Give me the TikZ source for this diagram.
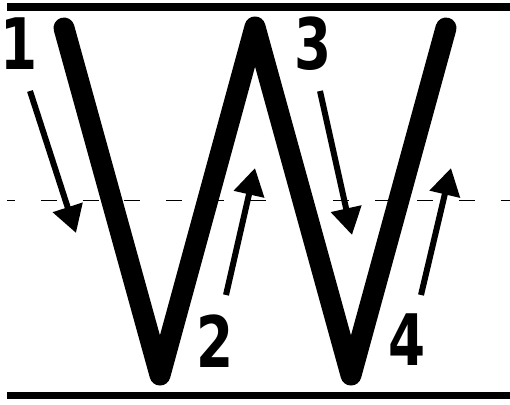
\documentclass[tikz,border=0pt]{standalone}
\usepackage{fontspec}
\newfontfamily\digitfont[FakeStretch=0.75]{DejaVu Sans}
\usetikzlibrary{arrows.meta}

\begin{document}
\begin{tikzpicture}[x=1pt, y=-1pt,
    rule/.style={line width=7.5pt},
    guide/.style={line width=1.6pt, dash pattern=on 16pt off 25.8pt, dash phase=8pt},
    letter/.style={line width=21pt, line cap=round, line join=round},
    arr/.style={line width=6pt, -{Triangle[length=27pt,width=30pt]}},
    num/.style={font=\digitfont\bfseries\fontsize{71}{71}\selectfont, inner sep=0pt}]
  \useasboundingbox (0,0) rectangle (510,404);
  % ruled lines
  \draw[rule] (7,7) -- (510,7);
  \draw[rule] (7,395.5) -- (510,395.5);
  \draw[guide] (7,200.5) -- (510,200.5);
  % the letter W
  \coordinate (w0) at (64,28);
  \coordinate (w1) at (160,375);
  \coordinate (w2) at (255,27);
  \coordinate (w3) at (351,375);
  \coordinate (w4) at (446,28);
  \draw[letter] (w0) -- (w1) -- (w2) -- (w3) -- (w4);
  % stroke order: number and arrow
  \foreach \k/\nx/\ny/\ax/\ay/\bx/\by in {1/19.5/44/30/91/76/233, 2/215/341/226/295/255/168,
      3/313.5/44/320/91/352/235, 4/407.5/340/421/295/451/168}{
    \node[num] (n\k) at (\nx,\ny) {\k};
    \coordinate (t\k) at (\ax,\ay);
    \coordinate (h\k) at (\bx,\by);
    \draw[arr] (t\k) -- (h\k);
  }
\end{tikzpicture}
\end{document}
